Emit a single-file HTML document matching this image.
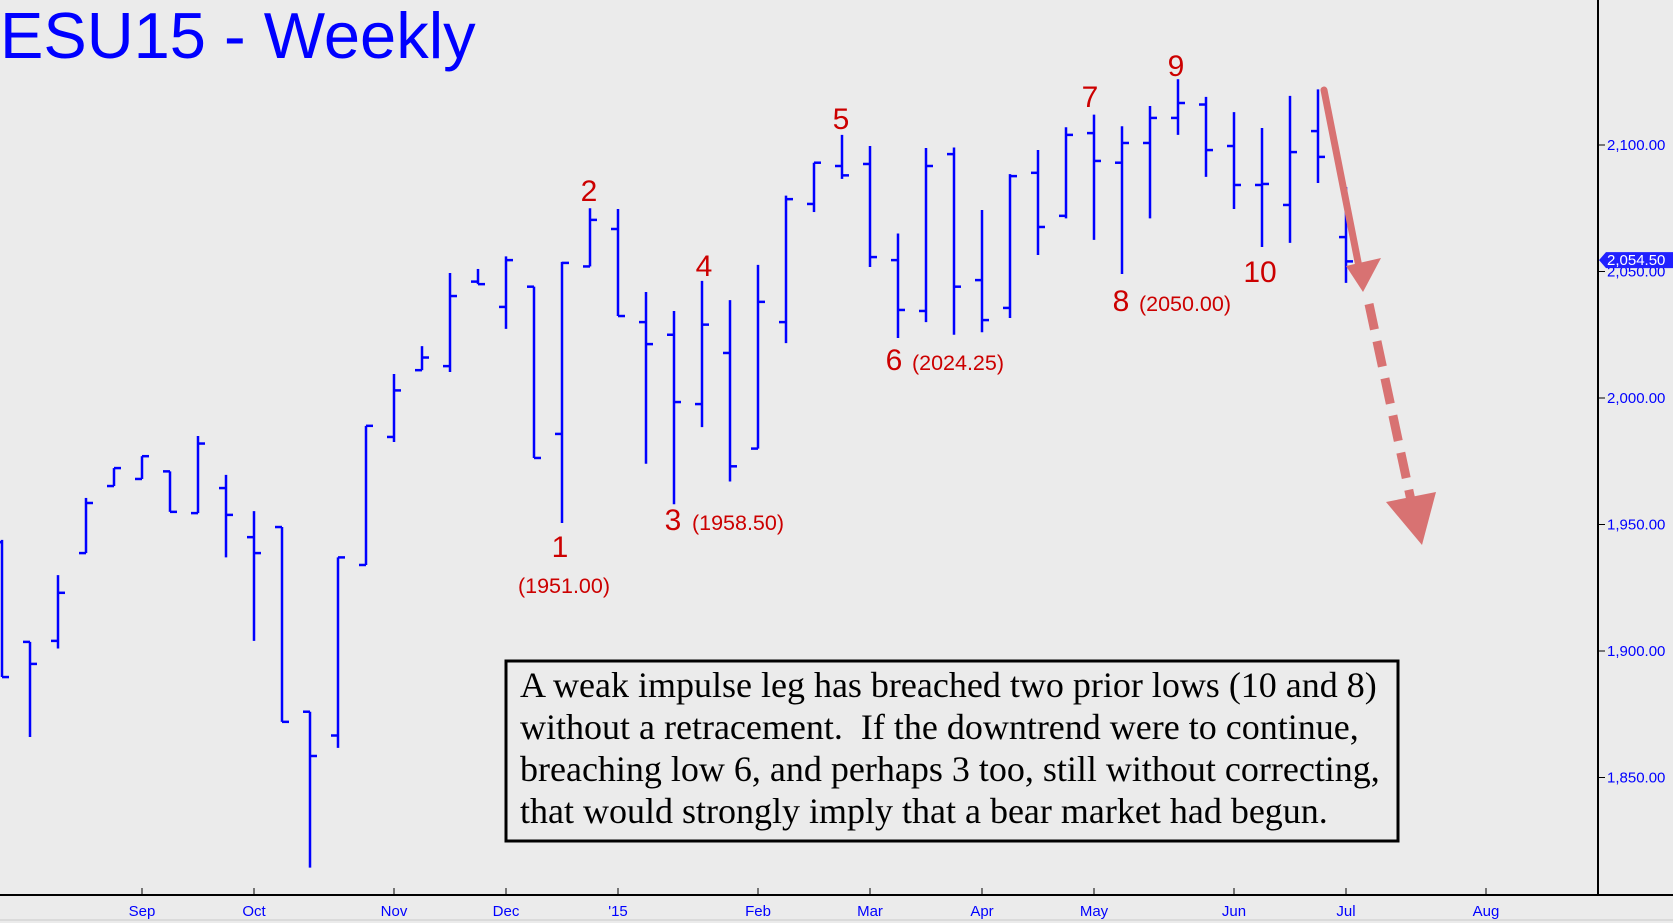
<!DOCTYPE html>
<html><head><meta charset="utf-8"><style>
html,body{margin:0;padding:0;background:#ebebeb;}
svg{display:block;font-family:"Liberation Sans",sans-serif;}
</style></head><body>
<svg id="chart" width="1673" height="923" viewBox="0 0 1673 923" xmlns="http://www.w3.org/2000/svg">
<rect x="0" y="0" width="1673" height="923" fill="#ebebeb"/>
<g id="bars"></g>
<g id="yaxis"></g>
<g id="xaxis"></g>
<text x="0" y="58" font-size="65" fill="#0000ff">ESU15 - Weekly</text>
<g fill="#cc0000" text-anchor="middle">
<text x="560" y="557" font-size="30">1</text>
<text x="564" y="593" font-size="21.5">(1951.00)</text>
<text x="589" y="201" font-size="30">2</text>
<text x="673" y="530" font-size="30">3</text>
<text x="738" y="530" font-size="21.5">(1958.50)</text>
<text x="704" y="276" font-size="30">4</text>
<text x="841" y="129" font-size="30">5</text>
<text x="894" y="370" font-size="30">6</text>
<text x="958" y="370" font-size="21.5">(2024.25)</text>
<text x="1090" y="107" font-size="30">7</text>
<text x="1121" y="311" font-size="30">8</text>
<text x="1185" y="311" font-size="21.5">(2050.00)</text>
<text x="1176" y="76" font-size="30">9</text>
<text x="1260" y="282" font-size="30">10</text>
</g>
<g fill="#d87272" stroke="#d87272">
<line x1="1324" y1="90" x2="1360" y2="272" stroke-width="7" stroke-linecap="round"/>
<polygon points="1346,266 1381,258 1363,292" stroke="none"/>
<line x1="1369" y1="304" x2="1412" y2="505" stroke-width="9" stroke-dasharray="26,12"/>
<polygon points="1386,502 1436,492 1422,545" stroke="none"/>
</g>
<g>
<rect x="506" y="661" width="892" height="180" fill="#ebebeb" stroke="#000" stroke-width="3"/>
<text font-family="Liberation Serif, serif" font-size="36" fill="#000" style="white-space:pre">
<tspan x="520" y="697">A weak impulse leg has breached two prior lows (10 and 8)</tspan>
<tspan x="520" y="739">without a retracement.  If the downtrend were to continue,</tspan>
<tspan x="520" y="781">breaching low 6, and perhaps 3 too, still without correcting,</tspan>
<tspan x="520" y="823">that would strongly imply that a bear market had begun.</tspan>
</text>
</g>
</svg>
<script>
const highs=[1943.9,1903.6,1930,1960.5,1972.3,1977,1971,1985,1969.6,1955.3,1949,1876,1937,1989,2009.5,2020.5,2049.4,2051,2056,2044,2053.8,2075,2074.7,2041.9,2034.4,2046.3,2038.7,2052.6,2080,2093,2104,2099.6,2065,2098.8,2099,2074.3,2088.5,2098,2107,2112,2107.4,2115.4,2126,2119,2113,2106.7,2119.4,2122,2083.4];
const lows=[1889.7,1866,1901,1938.7,1965.2,1968,1955,1954.5,1937,1904,1872,1814.4,1861.7,1934,1982.6,2011,2010.3,2045,2027.3,1976.3,1950.6,2052,2032.4,1974,1958,1988.5,1967,1980,2021.7,2073.5,2086.6,2051.8,2023.7,2030,2025,2026,2031.6,2056.5,2071,2062.5,2049,2071,2104,2087.4,2074.7,2059.7,2061.3,2085,2045.5];
const opens=[1943,1903.6,1904,1938.7,1965.2,1968,1971,1954.5,1964.4,1945,1949,1876,1866.6,1934,1984.6,2011,2012.6,2046,2036,2044,1985.8,2052,2066.8,2030,2025,1997.6,2017.8,1980,2030,2076.7,2091.7,2092.5,2054.5,2034.4,2096.4,2046.6,2035.6,2089,2072,2104.7,2093,2100.8,2110.7,2116,2099.6,2084.2,2076.3,2105.5,2063.6];
const closes=[1889.7,1894.9,1923,1958.5,1972.3,1977,1955,1982,1953.8,1938.7,1872,1858.5,1937,1989,2003,2016,2040.3,2045,2054.5,1976.3,2053.4,2070.4,2032.4,2021.3,1998.4,2029,1973,2038,2078.6,2093,2088,2055.7,2034.8,2091.7,2044,2030.8,2087.7,2067.6,2104,2093.7,2100.8,2110.7,2116.6,2098,2084.2,2084.6,2097.2,2095.3,2054];
const yTicks=[1850,1900,1950,2000,2050,2100];
const yTickLabels=["1,850.00","1,900.00","1,950.00","2,000.00","2,050.00","2,100.00"];
const monthLabels=["Sep","Oct","Nov","Dec","'15","Feb","Mar","Apr","May","Jun","Jul","Aug"];
const monthBarIndex=[5,9,14,18,22,27,31,35,39,44,48,53];
const lastPrice=2054.5;

const NS="http://www.w3.org/2000/svg";
function yScale(p){return 145+(2100-p)*2.53;}
function xScale(i){return 2+i*28;}
function mk(tag,attrs,parent){const e=document.createElementNS(NS,tag);for(const k in attrs)e.setAttribute(k,attrs[k]);parent.appendChild(e);return e;}

const barsG=document.getElementById('bars');
for(let i=0;i<highs.length;i++){
  const x=xScale(i);
  const g=mk('g',{stroke:'#0000ff','stroke-width':'2.5'},barsG);
  
  
  const hl=mk('line',{x1:x,x2:x,y1:yScale(highs[i]),y2:yScale(lows[i])},g);
  
  
  const o=mk('line',{x1:x-7,x2:x,y1:yScale(opens[i]),y2:yScale(opens[i])},g);
  
  
  const c=mk('line',{x1:x,x2:x+7,y1:yScale(closes[i]),y2:yScale(closes[i])},g);
  
  
}

const yG=document.getElementById('yaxis');
const axl=mk('line',{x1:1598,x2:1598,y1:0,y2:895,stroke:'#000','stroke-width':'2'},yG);


yTicks.forEach((t,k)=>{
  const y=yScale(t);
  const tk=mk('line',{x1:1598,x2:1605,y1:y,y2:y,stroke:'#000','stroke-width':'1'},yG);
  
  
  const tx=mk('text',{x:1607,y:y+5,'font-size':'15',fill:'#0000ff'},yG);
  
  
  tx.textContent=yTickLabels[k];
});
const ly=yScale(lastPrice);
const tag=mk('polygon',{points:`1599,${ly} 1606,${ly-8} 1673,${ly-8} 1673,${ly+8} 1606,${ly+8}`,fill:'#2020ff'},yG);


const tagT=mk('text',{x:1607,y:ly+5,'font-size':'15',fill:'#fff'},yG);


tagT.textContent=lastPrice.toLocaleString('en-US',{minimumFractionDigits:2});

const xG=document.getElementById('xaxis');
const bl=mk('line',{x1:0,x2:1673,y1:895,y2:895,stroke:'#000','stroke-width':'2'},xG);


const bl2=mk('line',{x1:0,x2:1673,y1:920,y2:920,stroke:'#c8c8c8','stroke-width':'1'},xG);


monthLabels.forEach((m,k)=>{
  const x=xScale(monthBarIndex[k]);
  const tk=mk('line',{x1:x,x2:x,y1:888,y2:895,stroke:'#000','stroke-width':'1'},xG);
  
  
  const tx=mk('text',{x:x,y:916,'font-size':'15',fill:'#0000ff','text-anchor':'middle'},xG);
  
  
  tx.textContent=m;
});
</script>
</body></html>
